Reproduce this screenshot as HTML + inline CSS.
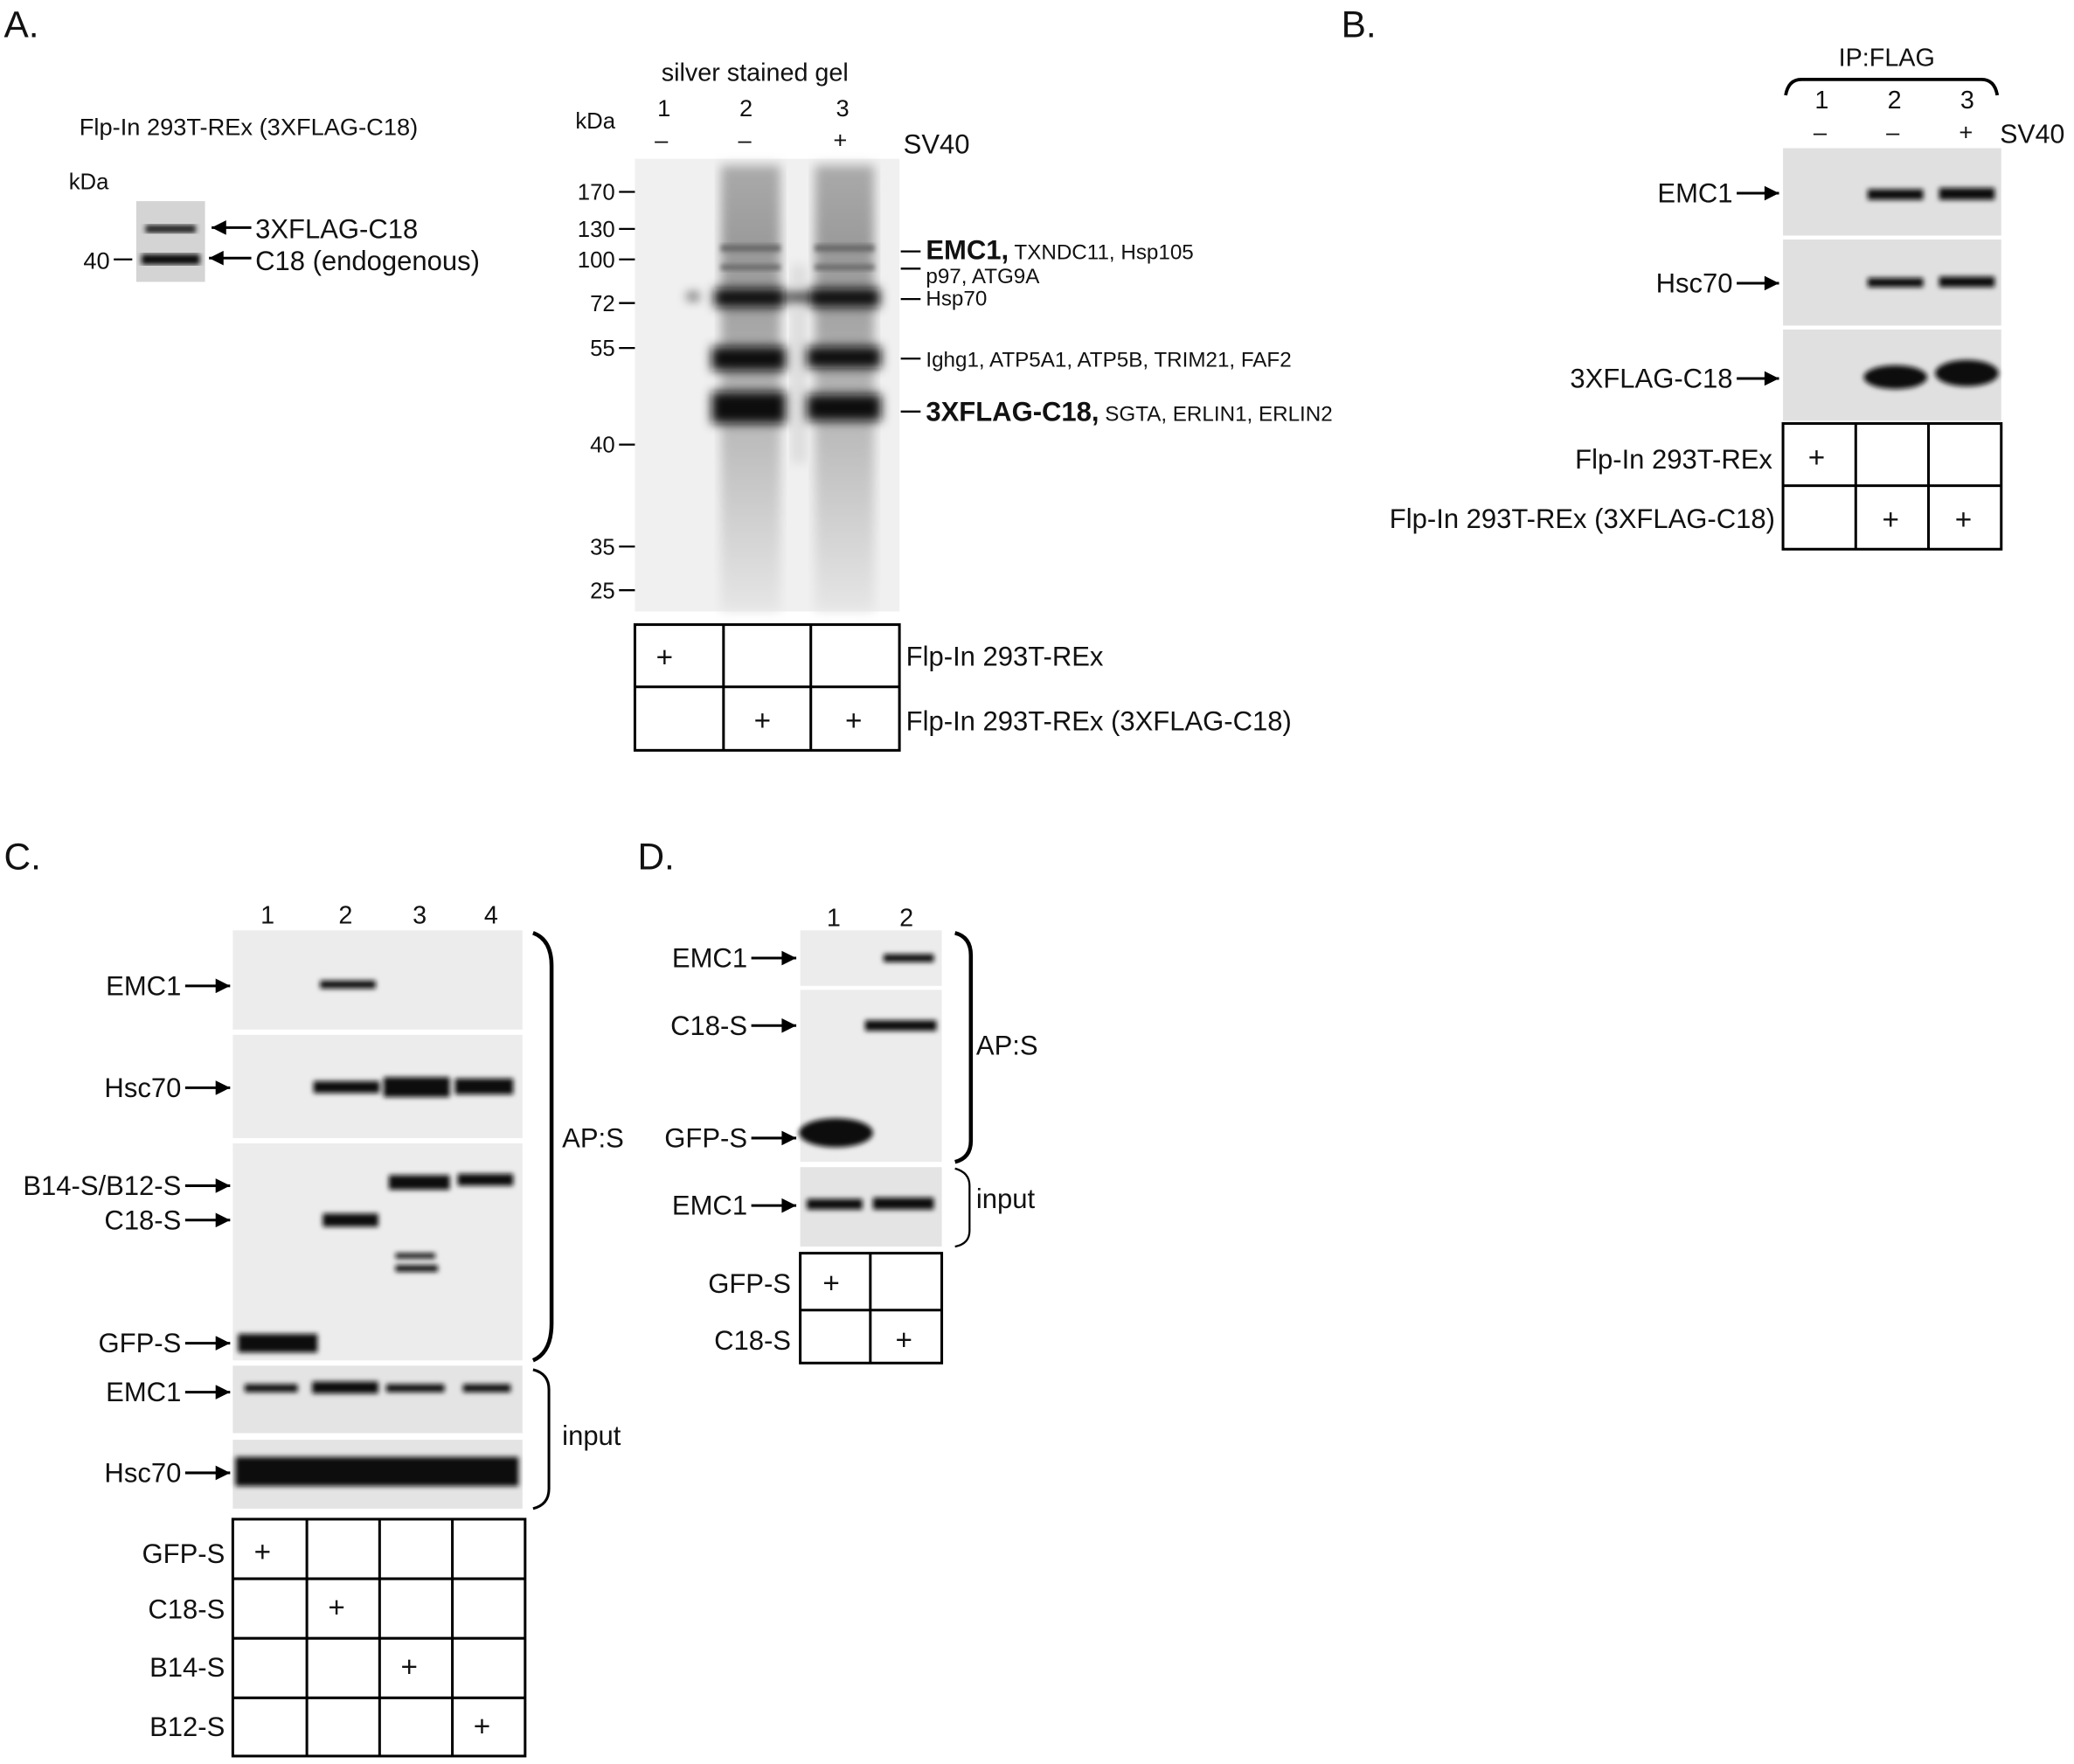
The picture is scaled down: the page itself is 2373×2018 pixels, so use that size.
<!DOCTYPE html>
<html><head><meta charset="utf-8"><style>
html,body{margin:0;padding:0;background:#fff;width:2373px;height:2018px;overflow:hidden}
svg{display:block}
text{font-family:"Liberation Sans",Arial,sans-serif;fill:#111}
</style></head><body>
<svg width="2373" height="2018" viewBox="0 0 1568 1333" preserveAspectRatio="none" xmlns="http://www.w3.org/2000/svg">
<defs>
<marker id="ah" viewBox="0 0 10 10" refX="10" refY="5" markerWidth="16" markerHeight="11" markerUnits="userSpaceOnUse" orient="auto"><path d="M0,0L10,5L0,10z" fill="#000"/></marker>
<filter id="b2"><feGaussianBlur stdDeviation="2"/></filter>
<filter id="b4"><feGaussianBlur stdDeviation="4"/></filter>
<linearGradient id="lane" x1="0" y1="0" x2="0" y2="1">
<stop offset="0" stop-color="#aaa"/><stop offset="0.2" stop-color="#999"/><stop offset="0.6" stop-color="#bbb"/><stop offset="1" stop-color="#e6e6e6"/></linearGradient>
</defs>
<!-- Panel A -->
<text x="3" y="28" font-size="28">A.</text>
<text x="60" y="102" font-size="18">Flp-In 293T-REx (3XFLAG-C18)</text>
<text x="52" y="143" font-size="17">kDa</text>
<rect x="103" y="152" width="52" height="61" fill="#d4d4d4"/>
<rect x="110" y="170" width="38" height="6" fill="#222" filter="url(#b2)"/>
<rect x="107" y="192" width="44" height="8" fill="#111" filter="url(#b2)"/>
<text x="63" y="203" font-size="18">40</text>
<line x1="86" y1="196" x2="100" y2="196" stroke="#000" stroke-width="1.5"/>
<g stroke="#000" stroke-width="2" marker-end="url(#ah)">
<line x1="190" y1="172" x2="160" y2="172"/><line x1="190" y1="195" x2="158" y2="195"/></g>
<text x="193" y="180" font-size="20.5">3XFLAG-C18</text>
<text x="193" y="204" font-size="20.5">C18 (endogenous)</text>

<text x="500" y="61" font-size="19">silver stained gel</text>
<text x="497" y="88" font-size="18">1</text><text x="559" y="88" font-size="18">2</text><text x="632" y="88" font-size="18">3</text>
<text x="435" y="97" font-size="17">kDa</text>
<text x="495" y="112" font-size="18">–</text><text x="558" y="112" font-size="18">–</text><text x="630" y="112" font-size="18">+</text>
<text x="683" y="116" font-size="20.5">SV40</text>
<rect x="480" y="120" width="200" height="342" fill="#f0f0f0"/>
<rect x="545" y="125" width="45" height="337" fill="url(#lane)" filter="url(#b4)"/>
<rect x="616" y="125" width="45" height="337" fill="url(#lane)" filter="url(#b4)"/>
<rect x="598" y="200" width="12" height="150" fill="#ddd" filter="url(#b4)"/>
<g fill="#111" filter="url(#b4)">
<rect x="540" y="218" width="53" height="14"/><rect x="612" y="218" width="53" height="14"/>
<rect x="538" y="262" width="56" height="18"/><rect x="610" y="262" width="56" height="16"/>
<rect x="538" y="296" width="56" height="24"/><rect x="610" y="298" width="56" height="20"/>
<rect x="520" y="222" width="8" height="4"/><rect x="595" y="222" width="16" height="5"/>
</g>
<g fill="#666" filter="url(#b2)"><rect x="545" y="185" width="45" height="5"/><rect x="616" y="185" width="45" height="5"/><rect x="545" y="200" width="45" height="4"/><rect x="616" y="200" width="45" height="4"/></g>
<g font-size="17" text-anchor="end">
<text x="465" y="151">170</text><text x="465" y="179">130</text><text x="465" y="202">100</text><text x="465" y="235">72</text><text x="465" y="269">55</text><text x="465" y="342">40</text><text x="465" y="419">35</text><text x="465" y="452">25</text></g>
<g stroke="#000" stroke-width="1.5">
<line x1="468" y1="145" x2="480" y2="145"/><line x1="468" y1="173" x2="480" y2="173"/><line x1="468" y1="196" x2="480" y2="196"/><line x1="468" y1="229" x2="480" y2="229"/><line x1="468" y1="263" x2="480" y2="263"/><line x1="468" y1="336" x2="480" y2="336"/><line x1="468" y1="413" x2="480" y2="413"/><line x1="468" y1="446" x2="480" y2="446"/>
<line x1="681" y1="190" x2="696" y2="190"/><line x1="681" y1="203" x2="696" y2="203"/><line x1="681" y1="226" x2="696" y2="226"/><line x1="681" y1="271" x2="696" y2="271"/><line x1="681" y1="311" x2="696" y2="311"/></g>
<text x="700" y="196"><tspan font-size="20.5" font-weight="bold">EMC1,</tspan><tspan font-size="16"> TXNDC11, Hsp105</tspan></text>
<text x="700" y="214" font-size="16">p97, ATG9A</text>
<text x="700" y="231" font-size="16">Hsp70</text>
<text x="700" y="277" font-size="16">Ighg1, ATP5A1, ATP5B, TRIM21, FAF2</text>
<text x="700" y="318"><tspan font-size="20.5" font-weight="bold">3XFLAG-C18,</tspan><tspan font-size="16"> SGTA, ERLIN1, ERLIN2</tspan></text>
<g stroke="#000" stroke-width="2" fill="none">
<rect x="480" y="472" width="200" height="95"/><line x1="547" y1="472" x2="547" y2="567"/><line x1="613" y1="472" x2="613" y2="567"/><line x1="480" y1="519" x2="680" y2="519"/></g>
<text x="496" y="504" font-size="22">+</text><text x="570" y="552" font-size="22">+</text><text x="639" y="552" font-size="22">+</text>
<text x="685" y="503" font-size="20.5">Flp-In 293T-REx</text>
<text x="685" y="552" font-size="20.5">Flp-In 293T-REx (3XFLAG-C18)</text>

<!-- Panel B -->
<text x="1014" y="28" font-size="28">B.</text>
<text x="1390" y="50" font-size="19">IP:FLAG</text>
<path d="M1350,72 Q1352,60 1362,60 L1498,60 Q1508,60 1510,72" stroke="#000" stroke-width="2.5" fill="none"/>
<text x="1372" y="82" font-size="19">1</text><text x="1427" y="82" font-size="19">2</text><text x="1482" y="82" font-size="19">3</text>
<text x="1371" y="106" font-size="18">–</text><text x="1426" y="106" font-size="18">–</text><text x="1481" y="106" font-size="18">+</text>
<text x="1512" y="108" font-size="20">SV40</text>
<rect x="1348" y="112" width="165" height="66" fill="#e0e0e0"/>
<rect x="1348" y="181" width="165" height="65" fill="#e0e0e0"/>
<rect x="1348" y="249" width="165" height="69" fill="#e0e0e0"/>
<g fill="#111" filter="url(#b2)">
<rect x="1412" y="143" width="42" height="8"/><rect x="1466" y="142" width="42" height="9"/>
<rect x="1412" y="210" width="42" height="7"/><rect x="1466" y="209" width="42" height="8"/>
<ellipse cx="1433" cy="285" rx="24" ry="9"/><ellipse cx="1487" cy="282" rx="24" ry="10"/></g>
<g stroke="#000" stroke-width="2" marker-end="url(#ah)">
<line x1="1313" y1="146" x2="1345" y2="146"/><line x1="1313" y1="214" x2="1345" y2="214"/><line x1="1313" y1="286" x2="1345" y2="286"/></g>
<g font-size="20.5" text-anchor="end"><text x="1310" y="153">EMC1</text><text x="1310" y="221">Hsc70</text><text x="1310" y="293">3XFLAG-C18</text>
<text x="1340" y="354">Flp-In 293T-REx</text><text x="1342" y="399">Flp-In 293T-REx (3XFLAG-C18)</text></g>
<g stroke="#000" stroke-width="2" fill="none">
<rect x="1348" y="320" width="165" height="95"/><line x1="1403" y1="320" x2="1403" y2="415"/><line x1="1458" y1="320" x2="1458" y2="415"/><line x1="1348" y1="367" x2="1513" y2="367"/></g>
<text x="1367" y="353" font-size="22">+</text><text x="1423" y="400" font-size="22">+</text><text x="1478" y="400" font-size="22">+</text>

<!-- Panel C -->
<text x="3" y="657" font-size="28">C.</text>
<g font-size="19"><text x="197" y="698">1</text><text x="256" y="698">2</text><text x="312" y="698">3</text><text x="366" y="698">4</text></g>
<rect x="176" y="703" width="219" height="75" fill="#ececec"/>
<rect x="176" y="782" width="219" height="78" fill="#ececec"/>
<rect x="176" y="864" width="219" height="164" fill="#ececec"/>
<rect x="176" y="1032" width="219" height="51" fill="#e4e4e4"/>
<rect x="176" y="1088" width="219" height="52" fill="#e4e4e4"/>
<g fill="#111" filter="url(#b2)">
<rect x="242" y="741" width="42" height="6"/>
<rect x="237" y="817" width="50" height="9"/><rect x="290" y="814" width="50" height="15"/><rect x="344" y="815" width="44" height="12"/>
<rect x="294" y="888" width="46" height="11"/><rect x="346" y="887" width="42" height="9"/>
<rect x="244" y="917" width="42" height="10"/>
<rect x="299" y="947" width="30" height="4"/><rect x="299" y="956" width="32" height="5"/>
<rect x="180" y="1008" width="60" height="14"/>
<rect x="185" y="1046" width="40" height="6"/><rect x="236" y="1044" width="50" height="9"/><rect x="292" y="1046" width="44" height="6"/><rect x="350" y="1046" width="36" height="6"/>
<rect x="178" y="1101" width="214" height="22"/></g>
<g stroke="#000" stroke-width="2" marker-end="url(#ah)">
<line x1="140" y1="745" x2="174" y2="745"/><line x1="140" y1="822" x2="174" y2="822"/><line x1="140" y1="896" x2="174" y2="896"/><line x1="140" y1="922" x2="174" y2="922"/><line x1="140" y1="1015" x2="174" y2="1015"/><line x1="140" y1="1052" x2="174" y2="1052"/><line x1="140" y1="1113" x2="174" y2="1113"/></g>
<g font-size="20.5" text-anchor="end"><text x="137" y="752">EMC1</text><text x="137" y="829">Hsc70</text><text x="137" y="903">B14-S/B12-S</text><text x="137" y="929">C18-S</text><text x="137" y="1022">GFP-S</text><text x="137" y="1059">EMC1</text><text x="137" y="1120">Hsc70</text>
<text x="170" y="1181">GFP-S</text><text x="170" y="1223">C18-S</text><text x="170" y="1267">B14-S</text><text x="170" y="1312">B12-S</text></g>
<path d="M403,705 Q417,710 417,730 L417,1000 Q417,1022 403,1028" stroke="#000" stroke-width="3" fill="none"/>
<path d="M403,1035 Q415,1038 415,1050 L415,1125 Q415,1137 403,1140" stroke="#000" stroke-width="2" fill="none"/>
<text x="425" y="867" font-size="20.5">AP:S</text><text x="425" y="1092" font-size="20.5">input</text>
<g stroke="#000" stroke-width="2" fill="none">
<rect x="176" y="1148" width="221" height="179"/><line x1="232" y1="1148" x2="232" y2="1327"/><line x1="287" y1="1148" x2="287" y2="1327"/><line x1="342" y1="1148" x2="342" y2="1327"/>
<line x1="176" y1="1193" x2="397" y2="1193"/><line x1="176" y1="1238" x2="397" y2="1238"/><line x1="176" y1="1283" x2="397" y2="1283"/></g>
<g font-size="22"><text x="192" y="1180">+</text><text x="248" y="1222">+</text><text x="303" y="1267">+</text><text x="358" y="1312">+</text></g>

<!-- Panel D -->
<text x="482" y="657" font-size="28">D.</text>
<text x="625" y="700" font-size="19">1</text><text x="680" y="700" font-size="19">2</text>
<rect x="605" y="703" width="107" height="42" fill="#ececec"/>
<rect x="605" y="748" width="107" height="130" fill="#ececec"/>
<rect x="605" y="882" width="107" height="60" fill="#e4e4e4"/>
<g fill="#111" filter="url(#b2)">
<rect x="668" y="721" width="38" height="6"/><rect x="654" y="771" width="54" height="8"/>
<ellipse cx="632" cy="856" rx="28" ry="11"/><rect x="610" y="906" width="42" height="8"/><rect x="660" y="905" width="46" height="9"/></g>
<g stroke="#000" stroke-width="2" marker-end="url(#ah)">
<line x1="568" y1="724" x2="602" y2="724"/><line x1="568" y1="775" x2="602" y2="775"/><line x1="568" y1="860" x2="602" y2="860"/><line x1="568" y1="911" x2="602" y2="911"/></g>
<g font-size="20.5" text-anchor="end"><text x="565" y="731">EMC1</text><text x="565" y="782">C18-S</text><text x="565" y="867">GFP-S</text><text x="565" y="918">EMC1</text>
<text x="598" y="977">GFP-S</text><text x="598" y="1020">C18-S</text></g>
<path d="M722,705 Q734,708 734,722 L734,862 Q734,875 722,878" stroke="#000" stroke-width="3" fill="none"/>
<path d="M722,883 Q733,886 733,896 L733,930 Q733,940 722,942" stroke="#000" stroke-width="1.5" fill="none"/>
<text x="738" y="797" font-size="20.5">AP:S</text><text x="738" y="913" font-size="20.5">input</text>
<g stroke="#000" stroke-width="2" fill="none">
<rect x="605" y="947" width="107" height="83"/><line x1="658" y1="947" x2="658" y2="1030"/><line x1="605" y1="990" x2="712" y2="990"/></g>
<text x="622" y="977" font-size="22">+</text><text x="677" y="1020" font-size="22">+</text>
</svg>
</body></html>
